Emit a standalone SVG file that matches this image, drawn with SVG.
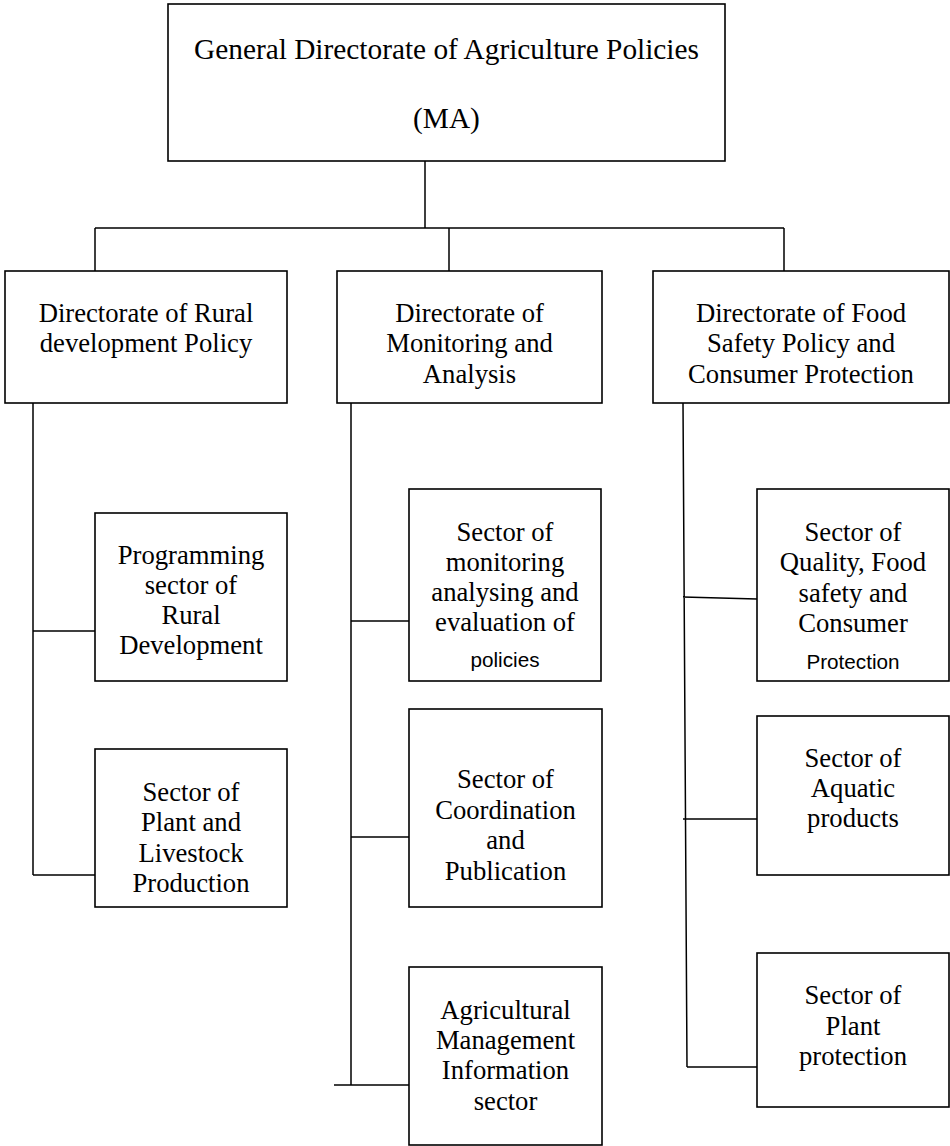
<svg xmlns="http://www.w3.org/2000/svg" width="950" height="1146" viewBox="0 0 950 1146">
<style>
.box{fill:#fff;stroke:#000;stroke-width:1.6}
.ln{fill:none;stroke:#000;stroke-width:1.5}
.t{font-family:"Liberation Serif","Times New Roman",serif;font-size:26.67px;fill:#000;text-anchor:middle}
.tt{font-family:"Liberation Serif","Times New Roman",serif;font-size:29.33px;fill:#000;text-anchor:middle}
.a{font-family:"Liberation Sans",Arial,sans-serif;font-size:20.7px;fill:#000;text-anchor:middle}
</style>
<rect width="950" height="1146" fill="#fff"/>
<g id="connectors">
<path class="ln" d="M425,161 V228 M95,228 H784 M95,228 V271 M449,228 V271 M784,228 V271"/>
<path class="ln" d="M33,403 V875 M33,631 H95 M33,875 H95"/>
<path class="ln" d="M351,403 V1085 M351,621 H409 M351,837 H409 M334,1085 H409"/>
<path class="ln" d="M683,403 L687,1067 M683,597 L757,599 M683,819 H757 M687,1067 H757"/>
</g>
<g id="n-general">
<rect class="box" x="168" y="4" width="557" height="157"/>
<text class="tt" x="446.5" y="59">General Directorate of Agriculture Policies</text>
<text class="tt" x="446.5" y="128">(MA)</text>
</g>
<g id="n-rural">
<rect class="box" x="5" y="271" width="282" height="132"/>
<text class="t" x="146" y="322">Directorate of Rural</text>
<text class="t" x="146" y="352">development Policy</text>
</g>
<g id="n-monitoring">
<rect class="box" x="337" y="271" width="265" height="132"/>
<text class="t" x="469.5" y="322">Directorate of</text>
<text class="t" x="469.5" y="352">Monitoring and</text>
<text class="t" x="469.5" y="383">Analysis</text>
</g>
<g id="n-food">
<rect class="box" x="653" y="271" width="296" height="132"/>
<text class="t" x="801" y="322">Directorate of Food</text>
<text class="t" x="801" y="352">Safety Policy and</text>
<text class="t" x="801" y="383">Consumer Protection</text>
</g>
<g id="n-programming">
<rect class="box" x="95" y="513" width="192" height="168"/>
<text class="t" x="191" y="564">Programming</text>
<text class="t" x="191" y="594">sector of</text>
<text class="t" x="191" y="624">Rural</text>
<text class="t" x="191" y="654">Development</text>
</g>
<g id="n-plant-livestock">
<rect class="box" x="95" y="749" width="192" height="158"/>
<text class="t" x="191" y="801">Sector of</text>
<text class="t" x="191" y="831">Plant and</text>
<text class="t" x="191" y="862">Livestock</text>
<text class="t" x="191" y="892">Production</text>
</g>
<g id="n-mon-sector">
<rect class="box" x="409" y="489" width="192" height="192"/>
<text class="t" x="505" y="541">Sector of</text>
<text class="t" x="505" y="571">monitoring</text>
<text class="t" x="505" y="601">analysing and</text>
<text class="t" x="505" y="631">evaluation of</text>
<text class="a" x="505" y="667">policies</text>
</g>
<g id="n-coordination">
<rect class="box" x="409" y="709" width="193" height="198"/>
<text class="t" x="505.5" y="788">Sector of</text>
<text class="t" x="505.5" y="819">Coordination</text>
<text class="t" x="505.5" y="849">and</text>
<text class="t" x="505.5" y="880">Publication</text>
</g>
<g id="n-amis">
<rect class="box" x="409" y="967" width="193" height="178"/>
<text class="t" x="505.5" y="1019">Agricultural</text>
<text class="t" x="505.5" y="1049">Management</text>
<text class="t" x="505.5" y="1079">Information</text>
<text class="t" x="505.5" y="1110">sector</text>
</g>
<g id="n-quality">
<rect class="box" x="757" y="489" width="192" height="192"/>
<text class="t" x="853" y="541">Sector of</text>
<text class="t" x="853" y="571">Quality, Food</text>
<text class="t" x="853" y="602">safety and</text>
<text class="t" x="853" y="632">Consumer</text>
<text class="a" x="853" y="669">Protection</text>
</g>
<g id="n-aquatic">
<rect class="box" x="757" y="716" width="192" height="159"/>
<text class="t" x="853" y="767">Sector of</text>
<text class="t" x="853" y="797">Aquatic</text>
<text class="t" x="853" y="827">products</text>
</g>
<g id="n-plant-protection">
<rect class="box" x="757" y="953" width="192" height="154"/>
<text class="t" x="853" y="1004">Sector of</text>
<text class="t" x="853" y="1035">Plant</text>
<text class="t" x="853" y="1065">protection</text>
</g>
</svg>
